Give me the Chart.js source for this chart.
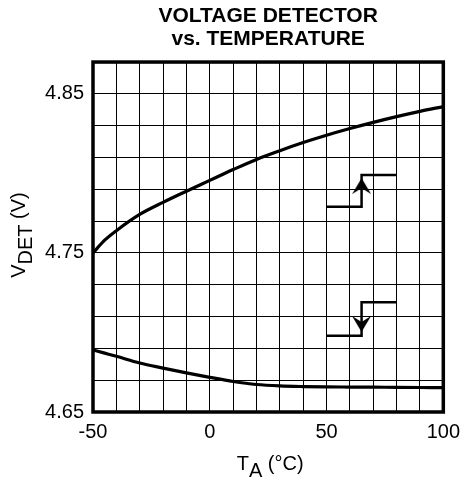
<!DOCTYPE html>
<html>
<head>
<meta charset="utf-8">
<script src="https://cdn.jsdelivr.net/npm/chart.js@4.4.1/dist/chart.umd.min.js"></script>
<style>
  body { margin: 0; background: #fff; }
  #container { width: 468px; height: 481px; }
</style>
</head>
<body>
<div id="container"><canvas id="graph" width="468" height="481"></canvas></div>
<script>
/* ------------------------ Données --------------------- */

const temps = [-50, -45, -40, -30, -20, -10, 0, 10, 20, 30, 40, 50, 60, 70, 80, 90, 100];
const vRising = [4.750, 4.758, 4.764, 4.7742, 4.7818, 4.7888, 4.7956, 4.8024, 4.8088, 4.8143, 4.8194, 4.824, 4.8282, 4.8321, 4.8357, 4.839, 4.842];
const vFalling = [4.689, 4.687, 4.685, 4.6808, 4.6776, 4.6746, 4.6718, 4.6692, 4.6673, 4.6664, 4.666, 4.6658, 4.6657, 4.6656, 4.6655, 4.6654, 4.6653];

/* symboles de seuil (flèches) */
const arrowX = [50, 65, 65, 80];
const arrowUpY = [4.779, 4.779, 4.799, 4.799];
const arrowDownY = [4.698, 4.698, 4.719, 4.719];
const headUp = [{x: 65, y: 4.792}];
const headDown = [{x: 65, y: 4.7053}];

/* graduations */
const xTicks = [-50, -40, -30, -20, -10, 0, 10, 20, 30, 40, 50, 60, 70, 80, 90, 100];
const xLabels = [-50, 0, 50, 100];
const yTicks = [4.65, 4.67, 4.69, 4.71, 4.73, 4.75, 4.77, 4.79, 4.81, 4.83, 4.85, 4.87];
const yLabels = ["4.65", "4.75", "4.85"];

const titleLines = ["VOLTAGE DETECTOR", "vs. TEMPERATURE"];

/* ------------------------ Mise en forme des séries --------------------- */

function toPoints(xs, ys) {
    const pts = [];
    for (let i = 0; i < xs.length; i++) {
        pts.push({x: xs[i], y: ys[i]});
    }
    return pts;
}

const FONT = "'Liberation Sans', Arial, sans-serif";

/* pointe de flèche à barbes (pointe vers le haut, tournée par "rotation") */
const arrowHead = document.createElement("canvas");
arrowHead.width = 19;
arrowHead.height = 16;
const ah = arrowHead.getContext("2d");
ah.fillStyle = "#000";
ah.beginPath();
ah.moveTo(9.5, 0);
ah.lineTo(19, 16);
ah.lineTo(9.5, 10);
ah.lineTo(0, 16);
ah.closePath();
ah.fill();

/* cadre épais + titres d'axes avec indices */
const framePlugin = {
    id: "frame",
    afterDraw(chart) {
        const ctx = chart.ctx;
        const a = chart.chartArea;
        ctx.save();
        ctx.strokeStyle = "#000";
        ctx.lineWidth = 3.5;
        ctx.strokeRect(a.left, a.top, a.right - a.left, a.bottom - a.top);

        ctx.fillStyle = "#000";
        ctx.font = "20px " + FONT;
        ctx.textBaseline = "alphabetic";
        ctx.textAlign = "left";

        // T_A (°C)
        let parts = [["T", 0], ["A", 7], [" (\u00B0C)", 0]];
        let total = 0;
        parts.forEach(p => total += ctx.measureText(p[0]).width);
        let cx = (a.left + a.right) / 2 + 2 - total / 2;
        parts.forEach(p => {
            ctx.fillText(p[0], cx, 470 + p[1]);
            cx += ctx.measureText(p[0]).width;
        });

        // V_DET (V)
        ctx.translate(25, (a.top + a.bottom) / 2 - 2);
        ctx.rotate(-Math.PI / 2);
        parts = [["V", 0], ["DET", 7], [" (V)", 0]];
        total = 0;
        parts.forEach(p => total += ctx.measureText(p[0]).width);
        cx = -total / 2;
        parts.forEach(p => {
            ctx.fillText(p[0], cx, p[1]);
            cx += ctx.measureText(p[0]).width;
        });
        ctx.restore();
    }
};

/*  ---------------------- création du graphique ----------------------------------------- */

const ctx = document.getElementById("graph").getContext("2d");

const data = {
    datasets: [
        {
            data: toPoints(temps, vRising),
            borderColor: "#000",
            borderWidth: 3.2,
            pointRadius: 0,
            cubicInterpolationMode: "monotone"
        },
        {
            data: toPoints(temps, vFalling),
            borderColor: "#000",
            borderWidth: 3.2,
            pointRadius: 0,
            cubicInterpolationMode: "monotone"
        },
        {
            data: toPoints(arrowX, arrowUpY),
            borderColor: "#000",
            borderWidth: 2.5,
            pointRadius: 0
        },
        {
            data: toPoints(arrowX, arrowDownY),
            borderColor: "#000",
            borderWidth: 2.5,
            pointRadius: 0
        },
        {
            data: headUp,
            showLine: false,
            pointStyle: arrowHead,
            rotation: 0
        },
        {
            data: headDown,
            showLine: false,
            pointStyle: arrowHead,
            rotation: 180
        }
    ]
};

const config = {
    type: "line",
    data: data,
    plugins: [framePlugin],
    options: {
        responsive: false,
        animation: false,
        layout: { padding: { left: 0, right: 23, top: 0, bottom: 0 } },
        plugins: {
            legend: { display: false },
            tooltip: { enabled: false },
            title: {
                display: true,
                fullSize: false,
                text: titleLines,
                color: "#000",
                font: { family: FONT, size: 21, weight: "bold", lineHeight: 1.12 },
                padding: { top: 4, bottom: 11 }
            }
        },
        scales: {
            x: {
                type: "linear",
                min: -50,
                max: 100,
                afterBuildTicks: (scale) => { scale.ticks = xTicks.map(v => ({value: v})); },
                afterFit: (scale) => { scale.height = 69; },
                grid: { color: "#000", lineWidth: 1, drawTicks: false },
                border: { display: false },
                ticks: {
                    color: "#000",
                    padding: 8,
                    maxRotation: 0,
                    autoSkip: false,
                    font: { family: FONT, size: 20 },
                    callback: (v) => xLabels.includes(v) ? String(v) : ""
                }
            },
            y: {
                type: "linear",
                min: 4.65,
                max: 4.87,
                afterBuildTicks: (scale) => { scale.ticks = yTicks.map(v => ({value: v})); },
                afterFit: (scale) => { scale.width = 93; },
                grid: { color: "#000", lineWidth: 1, drawTicks: false },
                border: { display: false },
                ticks: {
                    color: "#000",
                    padding: 9,
                    autoSkip: false,
                    font: { family: FONT, size: 20 },
                    callback: (v) => {
                        const s = v.toFixed(2);
                        return yLabels.includes(s) ? s : "";
                    }
                }
            }
        }
    }
};

const myChart = new Chart(ctx, config);
</script>
</body>
</html>
